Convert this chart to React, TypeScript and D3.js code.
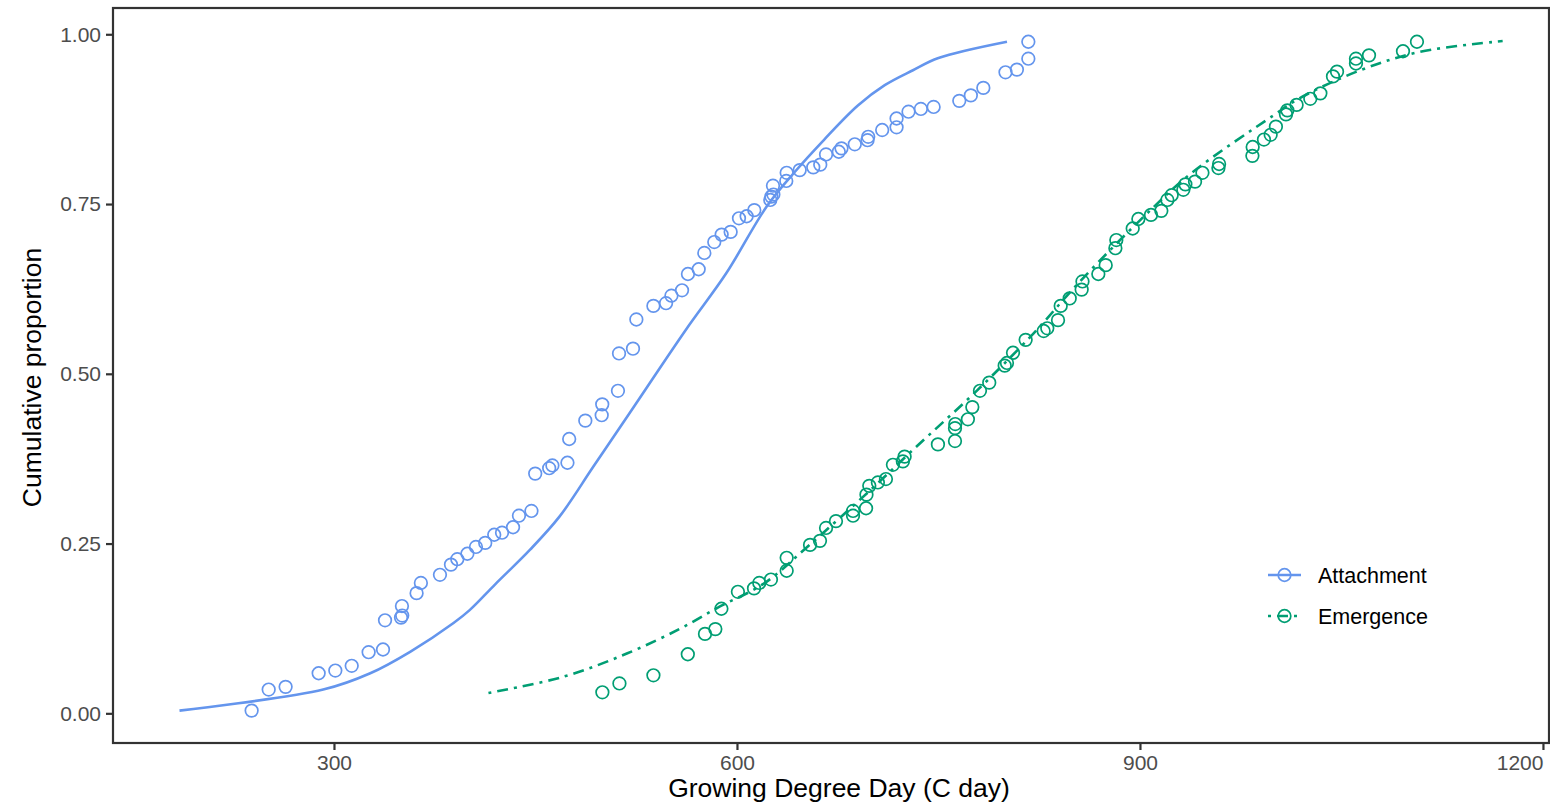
import React, { useRef, useEffect } from 'react';
import * as d3 from 'd3';

const WIDTH = 1550;
const HEIGHT = 807;
const PANEL = { left: 113, right: 1549, top: 8, bottom: 743 };
const FONT = '"Liberation Sans", Arial, Helvetica, sans-serif';

const BLUE = '#6495ED';
const GREEN = '#009E73';

// observed points: attachment
const attachX = [
  238.7, 251.4, 264.0, 288.6, 301.0, 313.2, 325.8, 336.5, 338.0, 349.9, 350.8, 350.6,
  361.5, 364.7, 378.9, 387.1, 391.8, 399.3, 405.7, 412.6, 419.3, 425.1, 433.3, 437.7,
  447.0, 449.8, 460.2, 462.6, 473.8, 475.1, 487.1, 499.3, 499.7, 511.4, 512.2, 522.6,
  525.1, 537.8, 547.2, 551.2, 559.1, 563.5, 571.5, 575.7, 583.1, 588.6, 595.3, 601.5,
  607.2, 612.9, 624.8, 625.6, 627.1, 626.8, 636.7, 637.0, 646.7, 656.8, 662.0, 666.3,
  675.8, 677.8, 687.7, 697.2, 697.7, 708.1, 718.8, 718.8, 727.7, 736.9, 746.4, 765.5,
  774.1, 783.4, 799.9, 808.4, 816.9, 816.9,
];
const attachY = [
  0.004, 0.035, 0.039, 0.059, 0.063, 0.070, 0.090, 0.094, 0.137, 0.141, 0.144, 0.158,
  0.177, 0.192, 0.204, 0.219, 0.227, 0.235, 0.245, 0.251, 0.263, 0.266, 0.274, 0.291,
  0.298, 0.353, 0.361, 0.365, 0.369, 0.404, 0.431, 0.439, 0.455, 0.475, 0.530, 0.537,
  0.580, 0.600, 0.604, 0.615, 0.623, 0.647, 0.654, 0.678, 0.694, 0.705, 0.709, 0.729,
  0.732, 0.741, 0.756, 0.761, 0.764, 0.777, 0.784, 0.796, 0.800, 0.804, 0.808, 0.823,
  0.827, 0.832, 0.838, 0.844, 0.849, 0.859, 0.863, 0.876, 0.886, 0.890, 0.893, 0.902,
  0.910, 0.921, 0.944, 0.948, 0.964, 0.989,
];

// observed points: emergence
const emergeX = [
  499.8, 512.5, 537.8, 563.4, 576.2, 583.9, 588.4, 600.7, 612.7, 616.6, 625.3, 637.0,
  637.0, 654.4, 661.8, 666.3, 673.7, 686.4, 686.4, 696.1, 696.4, 698.5, 704.9, 710.9,
  716.1, 723.5, 724.8, 749.6, 762.3, 762.3, 762.5, 771.9, 775.2, 780.9, 787.8, 799.3,
  801.0, 805.5, 814.9, 828.3, 831.0, 839.0, 841.0, 847.7, 856.6, 857.2, 869.0, 874.5,
  881.7, 882.4, 894.6, 898.8, 908.2, 915.9, 920.4, 923.6, 932.3, 933.8, 941.0, 946.5,
  958.4, 958.9, 983.7, 983.9, 992.3, 997.3, 1001.2, 1008.7, 1009.7, 1016.6, 1026.8, 1034.3,
  1043.7, 1046.7, 1060.8, 1060.8, 1070.5, 1095.8, 1106.2,
];
const emergeY = [
  0.031, 0.044, 0.056, 0.087, 0.117, 0.124, 0.154, 0.179, 0.184, 0.192, 0.197, 0.210,
  0.229, 0.248, 0.254, 0.273, 0.283, 0.291, 0.298, 0.302, 0.322, 0.335, 0.340, 0.345,
  0.366, 0.371, 0.378, 0.396, 0.401, 0.420, 0.426, 0.433, 0.451, 0.475, 0.487, 0.512,
  0.516, 0.531, 0.550, 0.563, 0.567, 0.579, 0.600, 0.611, 0.624, 0.636, 0.647, 0.660,
  0.685, 0.697, 0.714, 0.728, 0.734, 0.740, 0.756, 0.763, 0.771, 0.779, 0.783, 0.796,
  0.803, 0.809, 0.821, 0.834, 0.845, 0.852, 0.864, 0.882, 0.888, 0.896, 0.905, 0.913,
  0.938, 0.945, 0.957, 0.964, 0.969, 0.975, 0.989,
];

// fitted curves
const attachFitX = [185, 292, 327, 357, 389, 401, 420, 446, 468, 493, 520, 562, 592, 622, 642, 665, 690, 710, 731, 750, 801];
const attachFitY = [0.004, 0.035, 0.059, 0.091, 0.133, 0.152, 0.19, 0.241, 0.290, 0.363, 0.442, 0.565, 0.648, 0.746, 0.795, 0.845, 0.895, 0.925, 0.947, 0.965, 0.989];
const emergeFitX = [415, 471, 518, 558, 587, 620, 654, 700, 731, 779, 821, 853, 900, 938, 999, 1019, 1064, 1108, 1170];
const emergeFitY = [0.030, 0.054, 0.088, 0.125, 0.157, 0.191, 0.248, 0.330, 0.388, 0.476, 0.560, 0.631, 0.726, 0.795, 0.880, 0.906, 0.947, 0.974, 0.990];

const xTicks = [300, 600, 900, 1200];
const yTicks = [0, 0.25, 0.5, 0.75, 1];

const seriesNames = ['Attachment', 'Emergence'];

export default function App() {
  const svgRef = useRef<SVGSVGElement | null>(null);

  useEffect(() => {
    const svg = d3.select(svgRef.current);
    svg.selectAll('*').remove();

    const x = d3.scaleLinear().domain([135.5, 1204.5]).range([PANEL.left, PANEL.right]);
    const y = d3.scaleLinear().domain([-0.0437, 1.0387]).range([PANEL.bottom, PANEL.top]);

    const line = d3
      .line<[number, number]>()
      .x(d => x(d[0]))
      .y(d => y(d[1]))
      .curve(d3.curveCatmullRom.alpha(0.5));

    const series = [
      {
        name: seriesNames[0], color: BLUE, dash: null,
        pts: attachX.map((v, i) => [v, attachY[i]] as [number, number]),
        fit: attachFitX.map((v, i) => [v, attachFitY[i]] as [number, number]),
      },
      {
        name: seriesNames[1], color: GREEN, dash: '3,6,11,6',
        pts: emergeX.map((v, i) => [v, emergeY[i]] as [number, number]),
        fit: emergeFitX.map((v, i) => [v, emergeFitY[i]] as [number, number]),
      },
    ];

    // points + lines
    series.forEach(s => {
      svg.append('path')
        .attr('d', line(s.fit))
        .attr('fill', 'none')
        .attr('stroke', s.color)
        .attr('stroke-width', 2.6)
        .attr('stroke-dasharray', s.dash);

      svg.append('g')
        .selectAll('circle')
        .data(s.pts)
        .join('circle')
        .attr('cx', d => x(d[0]))
        .attr('cy', d => y(d[1]))
        .attr('r', 6.3)
        .attr('fill', 'none')
        .attr('stroke', s.color)
        .attr('stroke-width', 1.7);
    });

    // panel border
    svg.append('rect')
      .attr('x', PANEL.left).attr('y', PANEL.top)
      .attr('width', PANEL.right - PANEL.left)
      .attr('height', PANEL.bottom - PANEL.top)
      .attr('fill', 'none')
      .attr('stroke', '#333333')
      .attr('stroke-width', 2.2);

    // axes
    const xAxis = svg.append('g')
      .attr('transform', `translate(0,${PANEL.bottom})`)
      .call(d3.axisBottom(x).tickValues(xTicks).tickSize(7).tickPadding(5).tickFormat(d3.format('d')));
    xAxis.select('.domain').remove();
    xAxis.selectAll('line').attr('stroke', '#333333').attr('stroke-width', 2.2);
    xAxis.selectAll('text')
      .attr('fill', '#4D4D4D').attr('font-size', '21px').attr('font-family', FONT)
      .attr('text-anchor', d => (d === 1200 ? 'end' : 'middle'));

    const yAxis = svg.append('g')
      .attr('transform', `translate(${PANEL.left},0)`)
      .call(d3.axisLeft(y).tickValues(yTicks).tickSize(7).tickPadding(5).tickFormat(d3.format('.2f')));
    yAxis.select('.domain').remove();
    yAxis.selectAll('line').attr('stroke', '#333333').attr('stroke-width', 2.2);
    yAxis.selectAll('text')
      .attr('fill', '#4D4D4D').attr('font-size', '21px').attr('font-family', FONT);

    // axis titles
    svg.append('text')
      .attr('x', (PANEL.left + PANEL.right) / 2 + 8)
      .attr('y', 797)
      .attr('text-anchor', 'middle')
      .attr('font-size', '26.5px').attr('font-family', FONT).attr('fill', '#000')
      .text('Growing Degree Day (C day)');

    svg.append('text')
      .attr('transform', `translate(41,${(PANEL.top + PANEL.bottom) / 2 + 2}) rotate(-90)`)
      .attr('text-anchor', 'middle')
      .attr('font-size', '26.5px').attr('font-family', FONT).attr('fill', '#000')
      .text('Cumulative proportion');

    // legend
    const legend = svg.append('g').attr('transform', 'translate(1268,575)');
    series.forEach((s, i) => {
      const g = legend.append('g').attr('transform', `translate(0,${i * 41})`);
      g.append('line')
        .attr('x1', 0).attr('x2', 33).attr('y1', 0).attr('y2', 0)
        .attr('stroke', s.color).attr('stroke-width', 2.6)
        .attr('stroke-dasharray', s.dash);
      g.append('circle')
        .attr('cx', 16.5).attr('cy', 0).attr('r', 6.3)
        .attr('fill', 'none').attr('stroke', s.color).attr('stroke-width', 1.7);
      g.append('text')
        .attr('x', 50).attr('y', 7.5)
        .attr('font-size', '21.5px').attr('font-family', FONT).attr('fill', '#000')
        .text(s.name);
    });
  }, []);

  return (
    <svg
      ref={svgRef}
      width={WIDTH}
      height={HEIGHT}
      style={{ position: 'absolute', left: 0, top: 0, background: '#fff' }}
    />
  );
}
